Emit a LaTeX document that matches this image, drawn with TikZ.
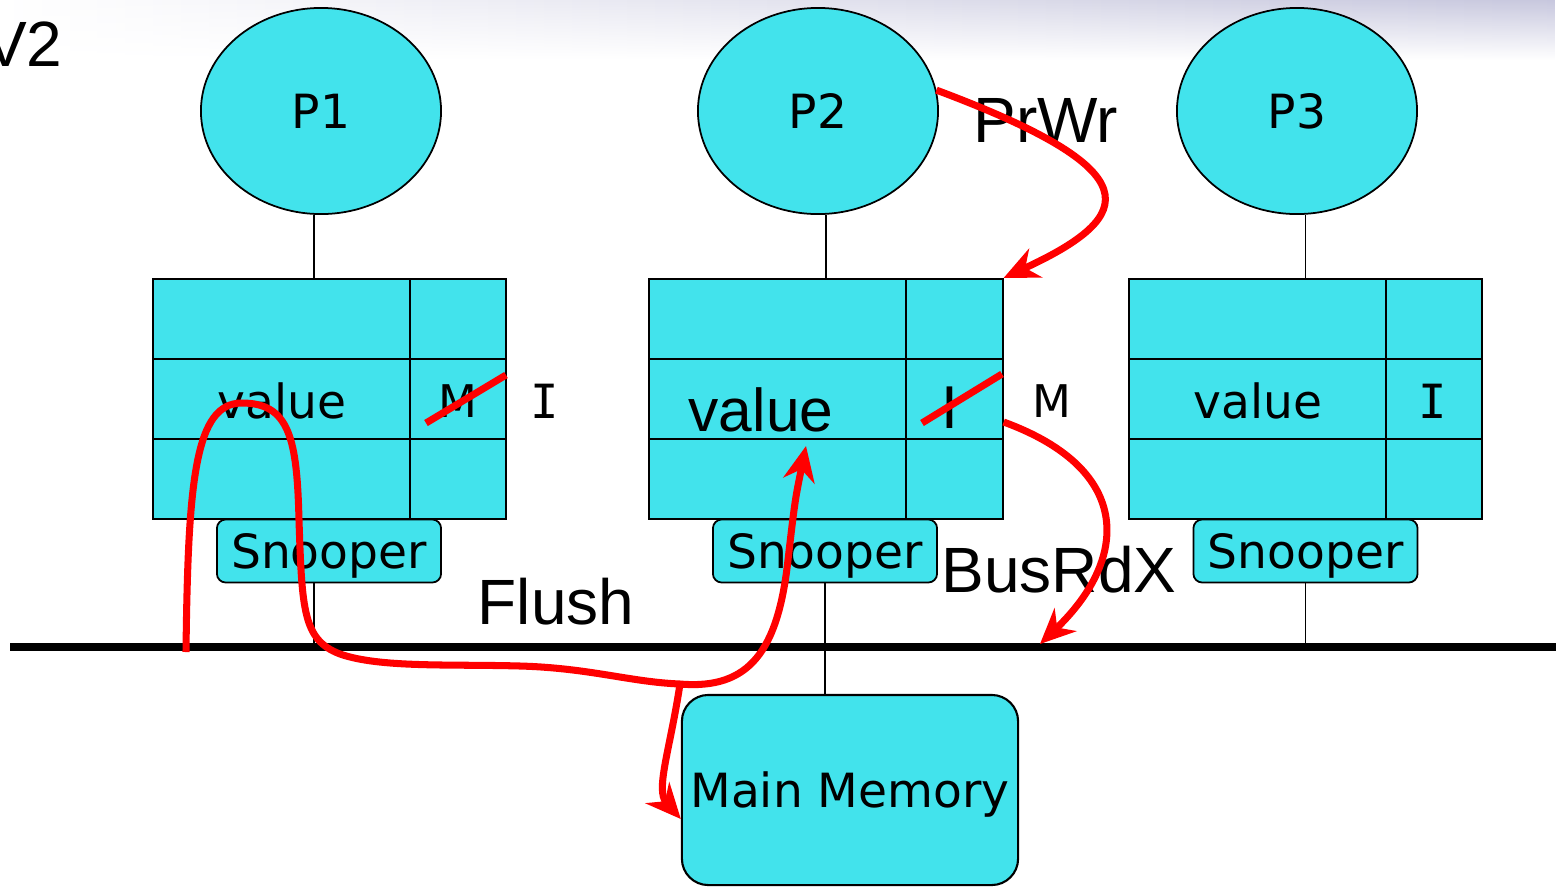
\documentclass[tikz,border=0pt]{standalone}
\usepackage{fontspec}
\setmainfont{DejaVu Sans}
\newfontfamily\arialf{Liberation Sans}
\newfontfamily\monof{DejaVu Sans Mono}
\usetikzlibrary{positioning,arrows.meta,shapes.geometric,fadings}
\definecolor{cellcyan}{RGB}{66,227,236}
\newcommand{\txtV}{\fontsize{13.4}{16}\selectfont}
\newcommand{\txtS}{\fontsize{12.8}{15}\selectfont}
\newcommand{\txtI}{\monof\fontsize{13.4}{16}\selectfont}
\newcommand{\txtA}{\arialf\fontsize{18.2}{22}\selectfont}
\newcommand{\txtB}{\arialf\fontsize{17.2}{20}\selectfont}

\begin{document}
\begin{tikzpicture}[x=0.01cm,y=-0.01cm,
  proc/.style={ellipse,draw,fill=cellcyan,line width=0.5pt,minimum width=2.4cm,minimum height=2.06cm,inner sep=0pt,font=\txtV},
  cachebox/.style={rectangle,draw,fill=cellcyan,line width=0.6pt,minimum width=3.53cm,minimum height=2.4cm,inner sep=0pt},
  snoop/.style={rectangle,rounded corners=2.5pt,draw,fill=cellcyan,line width=0.5pt,minimum width=2.24cm,minimum height=0.63cm,inner sep=0pt,text depth=0pt,font=\txtV},
  flow/.style={red,line width=2pt,-{Stealth[length=10pt,width=9pt]}},
  strike/.style={red,line width=2pt}]
  \useasboundingbox (0,0) rectangle (1556,887);
  \shade[left color=white,right color=blue!25!gray!35,path fading=south] (0,0) rectangle (1556,60);

  % bus
  \coordinate (busL) at (10,647);
  \coordinate (busR) at (1556,647);
  \draw[line width=2pt] (busL) -- (busR);

  % processors, caches, snoopers
  \node[proc] (p1) at (321,111) {P1};
  \node[cachebox] (c1) at (329.5,399) {};
  \node[snoop] (s1) at (329,551) {Snooper};
  \draw[line width=0.6pt] (153,359) -- (506,359) (153,439) -- (506,439) (410,279) -- (410,519);

  \node[proc] (p2) at (818,111) {P2};
  \node[cachebox] (c2) at (826,399) {};
  \node[snoop] (s2) at (825,551) {Snooper};
  \draw[line width=0.6pt] (650,359) -- (1002,359) (650,439) -- (1002,439) (906,279) -- (906,519);

  \node[proc] (p3) at (1297,111) {P3};
  \node[cachebox] (c3) at (1305.5,399) {};
  \node[snoop] (s3) at (1305.5,551) {Snooper};
  \draw[line width=0.6pt] (1129,359) -- (1482,359) (1129,439) -- (1482,439) (1386,279) -- (1386,519);

  \node[draw,fill=cellcyan,line width=0.6pt,rounded corners=7.5pt,minimum width=3.36cm,minimum height=1.9cm,inner sep=0pt,text depth=0pt,font=\txtV] (mem) at (850,790) {Main Memory};

  % wires
  \coordinate (l1) at (314,0);
  \draw[line width=0.5pt] (l1 |- p1.south) -- (l1 |- c1.north);
  \draw[line width=0.5pt] (l1 |- s1.south) -- (l1 |- busL);
  \draw[line width=0.5pt] (c2.north |- p2.south) -- (c2.north);
  \draw[line width=0.5pt] (s2.south) -- (s2.south |- mem.north);
  \draw[line width=0.5pt] (c3.north |- p3.south) -- (c3.north);
  \draw[line width=0.5pt] (s3.south) -- (s3.south |- busR);

  % cache contents
  \node[font=\txtV] (v1) at (282,401) {value};
  \node[font=\txtS] (m1) at (458,401) {M};
  \node[font=\txtI] (i1) at (545,401) {I};
  \node[font=\txtB] (v2) at (761,410) {value};
  \node[font=\txtB] (i2) at (950,408) {I};
  \node[font=\txtS] (m2) at (1052,401) {M};
  \node[font=\txtV] (v3) at (1258,401) {value};
  \node[font=\txtI] (i3) at (1433,401) {I};

  % labels
  \node[font=\txtA,anchor=east,inner sep=0pt] (ver) at (63,44) {V2};
  \node[font=\txtA] (prwr) at (1046,120) {PrWr};
  \node[font=\txtA] (busrdx) at (1059,570) {BusRdX};
  \node[font=\txtA] (flush) at (556,602) {Flush};

  % transitions
  \draw[strike] (426,423) -- (506,375);
  \draw[strike] (922,423) -- (1002,374);
  \coordinate (rdx) at (1040,644);
  \coordinate (flA) at (186,652);
  \coordinate (fork) at (680,684);
  \coordinate (v2in) at (806,446);
  \draw[flow] (p2.10) .. controls (1150,170) and (1140,215) .. (c2.north east);
  \draw[flow] ([yshift=-0.23cm]c2.east) .. controls (1135,470) and (1128,560) .. (rdx);
  \draw[flow] (flA) .. controls (188,480) and (195,403) .. (242,403)
    .. controls (290,403) and (297,440) .. (299,520)
    .. controls (302,610) and (303,640) .. (340,654)
    .. controls (380,668) and (450,664) .. (520,666)
    .. controls (590,668) and (630,682) .. (fork)
    .. controls (750,690) and (778,650) .. (788,560)
    .. controls (795,500) .. (v2in);
  \draw[flow] (fork) .. controls (670,750) and (655,790) .. ([yshift=-0.29cm]mem.west);
\end{tikzpicture}
\end{document}
